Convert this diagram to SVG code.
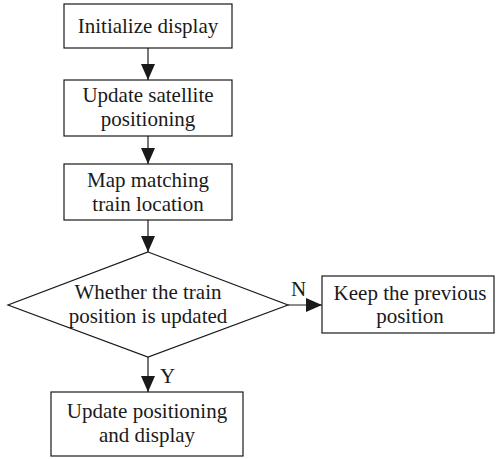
<svg xmlns="http://www.w3.org/2000/svg" width="496" height="459" viewBox="0 0 496 459">
  <style>
    .box { fill: #ffffff; stroke: #1a1a1a; stroke-width: 1.2; }
    .line { fill: none; stroke: #1a1a1a; stroke-width: 1.2; }
    text { font-family: "Liberation Serif", "Times New Roman", serif; font-size: 21px; fill: #1a1a1a; text-anchor: middle; }
    .lbl { text-anchor: start; }
  </style>
  <defs>
    <marker id="arrow" viewBox="0 0 16 14" refX="16" refY="7" markerWidth="16" markerHeight="14" markerUnits="userSpaceOnUse" orient="auto">
      <path d="M0,0 L16,7 L0,14 Z" fill="#1a1a1a"/>
    </marker>
  </defs>
  <rect width="496" height="459" fill="#ffffff"/>

  <g id="connectors">
    <line class="line" x1="148" y1="48" x2="148" y2="80" marker-end="url(#arrow)"/>
    <line class="line" x1="148" y1="136" x2="148" y2="164" marker-end="url(#arrow)"/>
    <line class="line" x1="148" y1="220" x2="148" y2="252" marker-end="url(#arrow)"/>
    <line class="line" x1="288" y1="305" x2="322" y2="305" marker-end="url(#arrow)"/>
    <line class="line" x1="148" y1="357" x2="148" y2="392" marker-end="url(#arrow)"/>
    <text class="lbl" x="291" y="296">N</text>
    <text class="lbl" x="160" y="383">Y</text>
  </g>

  <g id="init">
    <rect class="box" x="64" y="4" width="168" height="44"/>
    <text x="148" y="33">Initialize display</text>
  </g>

  <g id="satellite">
    <rect class="box" x="64" y="80" width="168" height="56"/>
    <text x="148" y="102">Update satellite</text>
    <text x="148" y="126">positioning</text>
  </g>

  <g id="mapmatch">
    <rect class="box" x="64" y="164" width="168" height="56"/>
    <text x="148" y="187">Map matching</text>
    <text x="148" y="211">train location</text>
  </g>

  <g id="decision">
    <polygon class="box" points="148,252 288,305 148,357 8,305"/>
    <text x="148" y="299">Whether the train</text>
    <text x="148" y="323">position is updated</text>
  </g>

  <g id="keep">
    <rect class="box" x="322" y="276" width="172" height="57"/>
    <text x="410" y="300">Keep the previous</text>
    <text x="410" y="323">position</text>
  </g>

  <g id="update">
    <rect class="box" x="51" y="392" width="192" height="64"/>
    <text x="147" y="418">Update positioning</text>
    <text x="147" y="442">and display</text>
  </g>
</svg>
